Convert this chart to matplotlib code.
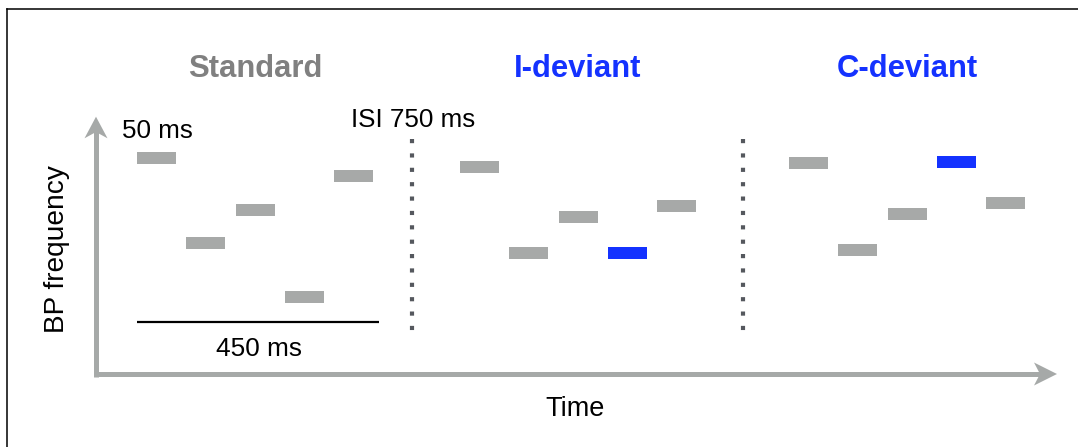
import matplotlib
matplotlib.use("Agg")
import matplotlib.pyplot as plt
from matplotlib.patches import Polygon
from matplotlib.lines import Line2D
import numpy as np

plt.rcParams['font.family'] = ['Liberation Sans', 'DejaVu Sans']

# ---- data ----
conditions = ["Standard", "I-deviant", "C-deviant"]
title_colors = ["#808080", "#1432FF", "#1432FF"]
# pitch level of each of the five tones (arbitrary units, higher = higher frequency)
standard_levels = [289, 204, 237, 150, 271]
ideviant_levels = [280, 194, 230, 194, 241]
cdeviant_levels = [284, 197, 233, 285, 244]
# which tone is the deviant (None for the standard sequence)
deviant_index = [None, 3, 3]
levels = [standard_levels, ideviant_levels, cdeviant_levels]

tone_label = "50 ms"
isi_label = "ISI 750 ms"
seq_label = "450 ms"
x_label = "Time"
y_label = "BP frequency"

# ---- layout ----
GRAY = "#A7A9A8"
BLUE = "#1432FF"
AXIS_GRAY = "#A6A9A8"
DOT = "#55585E"

block_start = [137, 460, 789]
tone_step = 49.3
tone_w = 39
tone_h = 12

fig = plt.figure(figsize=(10.78, 4.47), dpi=100)
ax = fig.add_axes([0, 0, 1, 1])
ax.set_xlim(0, 1078)
ax.set_ylim(0, 447)
ax.axis("off")

# frame lines (top and left)
fig.add_artist(Line2D([7 / 1078, 1], [1 - 9 / 447] * 2, color="black", lw=1.1,
                      transform=fig.transFigure))
fig.add_artist(Line2D([7 / 1078] * 2, [0, 1 - 9 / 447], color="black", lw=1.1,
                      transform=fig.transFigure))

# tones
for c, (start, lv) in enumerate(zip(block_start, levels)):
    onsets = start + tone_step * np.arange(len(lv))
    cols = [BLUE if i == deviant_index[c] else GRAY for i in range(len(lv))]
    ax.barh(lv, tone_w, left=onsets, height=tone_h, color=cols, align="center",
            zorder=3)
    ax.text(start + 2 * tone_step + tone_w / 2, 369.7,
            conditions[c], color=title_colors[c], fontsize=22.3,
            fontweight="bold", ha="center", va="baseline")

# dotted separators (square dots, ~14 px apart)
for xs in [411.5, 742.5]:
    ax.plot([xs, xs], [308.3, 114], color=DOT, lw=3.0,
            linestyle=(0, (1, 2.45)), solid_capstyle="butt",
            dash_capstyle="butt", zorder=2)

# axes arrows
lw_ax = 3.6
ax.plot([96, 96], [70.5, 316], color=AXIS_GRAY, lw=lw_ax, solid_capstyle="butt")
ax.plot([93.5, 1041], [73, 73], color=AXIS_GRAY, lw=lw_ax, solid_capstyle="butt")
ax.add_patch(Polygon([[96, 330.3], [84.5, 308.7], [96, 315], [107.5, 308.7]],
                     closed=True, color=AXIS_GRAY, lw=0))
ax.add_patch(Polygon([[1057, 73], [1034, 84.5], [1040, 73], [1034, 61.5]],
                     closed=True, color=AXIS_GRAY, lw=0))

# annotations
ax.text(121.5, 308.5, tone_label, fontsize=18.7, ha="left", va="baseline")
ax.text(351, 319.7, isi_label, fontsize=18.7, ha="left", va="baseline")
ax.plot([137, 379], [125, 125], color="black", lw=1.6, solid_capstyle="butt")
ax.text(259, 90.7, seq_label, fontsize=18.9, ha="center", va="baseline")
ax.text(575, 31, x_label, fontsize=19.5, ha="center", va="baseline")
ax.text(64.3, 198, y_label, fontsize=20.2, rotation=90, rotation_mode="anchor",
        ha="center", va="baseline")

fig.savefig("out.png", dpi=100)
